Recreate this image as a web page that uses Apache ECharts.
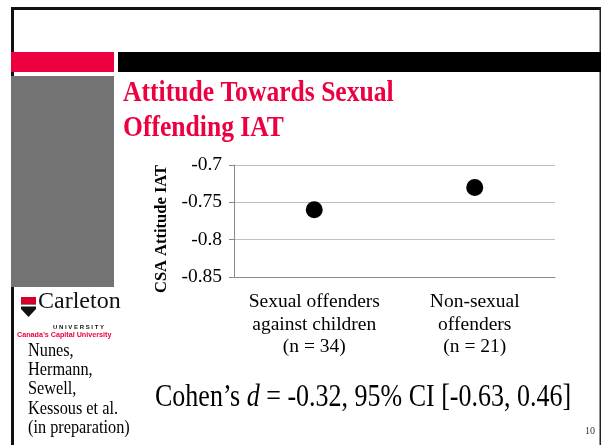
<!DOCTYPE html>
<html>
<head>
<meta charset="utf-8">
<script src="https://cdn.jsdelivr.net/npm/echarts@6/dist/echarts.min.js"></script>
<style>
  html,body{margin:0;padding:0;background:#fff;}
  #chart{width:602px;height:445px;}
</style>
</head>
<body>
<div id="chart"></div>
<script>
// ---- data ----
const groups = ['Sexual offenders\nagainst children\n(n = 34)', 'Non-sexual\noffenders\n(n = 21)'];
const means = [-0.76, -0.73];
const yTicks = {min: -0.85, max: -0.7, step: 0.05};
const titleLines = ['Attitude Towards Sexual', 'Offending IAT'];
const authors = ['Nunes,', 'Hermann,', 'Sewell,', 'Kessous et al.', '(in preparation)'];

const SERIF = '"Liberation Serif", "Times New Roman", serif';
const RED = '#ec0040';
const AXC = '#8a8a8a';

const ch = echarts.init(document.getElementById('chart'), null, {renderer: 'canvas'});

ch.setOption({
  animation: false,
  textStyle: {fontFamily: SERIF},
  grid: {left: 234, right: 47, top: 165, bottom: 168},
  xAxis: {
    type: 'category', data: groups,
    axisLine: {lineStyle: {color: AXC, width: 1}},
    axisTick: {show: false},
    axisLabel: {interval: 0, color: '#000', fontFamily: SERIF, fontSize: 19.5, lineHeight: 22.5, margin: 14}
  },
  yAxis: {
    type: 'value', min: yTicks.min, max: yTicks.max, interval: yTicks.step,
    name: 'CSA Attitude IAT', nameLocation: 'middle', nameGap: 58,
    nameTextStyle: {color: '#000', fontFamily: SERIF, fontWeight: 'bold', fontSize: 16.5, padding: [0, 16, 0, 0]},
    axisLine: {show: true, lineStyle: {color: AXC, width: 1}},
    axisTick: {show: true, length: 5, lineStyle: {color: AXC}},
    splitLine: {lineStyle: {color: '#c0c0c0', width: 1}},
    axisLabel: {color: '#000', fontFamily: SERIF, fontSize: 19.5, margin: 12}
  },
  series: [{
    type: 'scatter', data: means, symbol: 'circle', symbolSize: 17,
    itemStyle: {color: '#000', opacity: 1}
  }],
  graphic: [
    // slide frame
    {type: 'rect', shape: {x: 11, y: 7, width: 590, height: 3}, style: {fill: '#111'}},
    {type: 'rect', shape: {x: 11, y: 7, width: 3, height: 438}, style: {fill: '#111'}},
    {type: 'rect', shape: {x: 599.5, y: 7, width: 1.5, height: 438}, style: {fill: '#222'}},
    // header bars
    {type: 'rect', shape: {x: 11, y: 52, width: 103, height: 20}, style: {fill: RED}},
    {type: 'rect', shape: {x: 118, y: 52, width: 483, height: 20}, style: {fill: '#000'}},
    {type: 'rect', shape: {x: 11, y: 76, width: 103, height: 211}, style: {fill: '#737373'}},
    // logo
    {type: 'polygon', shape: {points: [[21, 297], [36, 297], [36, 309], [28.5, 317], [21, 309]]}, style: {fill: '#111'}},
    {type: 'rect', shape: {x: 21, y: 297, width: 15, height: 7}, style: {fill: '#d4002a'}},
    {type: 'rect', shape: {x: 21, y: 304.5, width: 15, height: 2}, style: {fill: '#fff'}},
    {type: 'text', x: 38, y: 314, style: {text: 'Carleton', font: '24px ' + SERIF, fill: '#111', verticalAlign: 'bottom'}},
    {type: 'text', x: 53, y: 324, style: {text: 'U N I V E R S I T Y', font: 'bold 6px "Liberation Sans", sans-serif', fill: '#111', verticalAlign: 'top'}},
    {type: 'text', x: 17, y: 331.5, style: {text: 'Canada\u2019s Capital University', font: 'bold 7.2px "Liberation Sans", sans-serif', fill: RED, verticalAlign: 'top'}},
    // title
    {type: 'text', x: 123, y: 76.5, scaleY: 1.17, style: {text: titleLines.join('\n'), font: 'bold 25.6px ' + SERIF, fill: RED, lineHeight: 29.5, verticalAlign: 'top'}},
    // authors
    {type: 'text', x: 28, y: 341, scaleY: 1.17, style: {text: authors.join('\n'), font: '16.3px ' + SERIF, fill: '#000', lineHeight: 16.5, verticalAlign: 'top'}},
    // effect size
    {type: 'text', x: 155, y: 382, scaleY: 1.2, style: {
      text: '{a|Cohen\u2019s }{b|d}{a| = -0.32, 95% CI [-0.63, 0.46]}',
      rich: {a: {font: '26px ' + SERIF, fill: '#000'}, b: {font: 'italic 26px ' + SERIF, fill: '#000'}},
      verticalAlign: 'top'}},
    // page number
    {type: 'text', x: 585, y: 431.5, style: {text: '10', font: '10px ' + SERIF, fill: '#333', verticalAlign: 'middle'}}
  ]
});
</script>
</body>
</html>
